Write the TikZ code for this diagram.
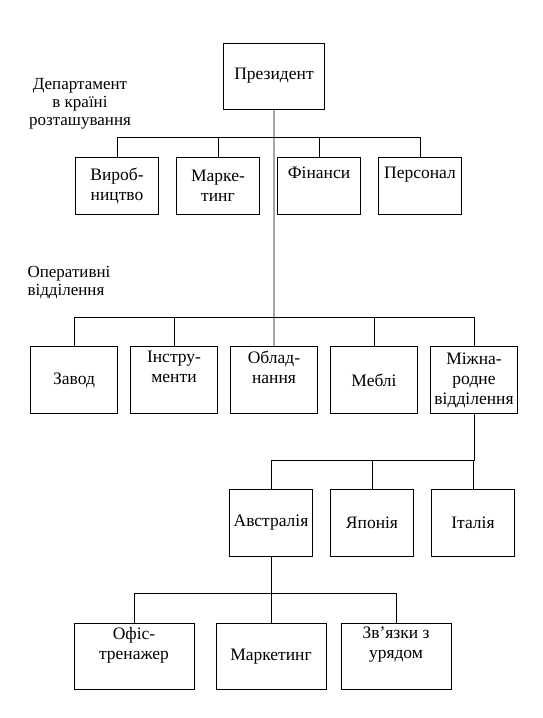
\documentclass[tikz,border=0pt]{standalone}
\usepackage{fontspec}
\setmainfont{Liberation Serif}
\usetikzlibrary{positioning}

\begin{document}
\begin{tikzpicture}[x=1bp,y=-1bp,align=center,font=\fontsize{17.5bp}{20bp}\selectfont]
\tikzstyle{unit}=[rectangle,draw=black,line width=0.8bp,inner sep=2bp]
\tikzstyle{dept}=[unit,minimum width=83bp,minimum height=57bp,node distance=101bp]
\tikzstyle{division}=[unit,minimum width=87bp,minimum height=67bp,node distance=100bp]
\tikzstyle{branch}=[unit,minimum width=83bp,minimum height=67bp,node distance=101bp]
\tikzstyle{office}=[unit,minimum width=110bp,minimum height=66bp]
\tikzstyle{link}=[line width=0.8bp]
\tikzstyle{caption}=[font=\fontsize{17bp}{18bp}\selectfont]

\useasboundingbox (0,0) rectangle (543,718);

\node[unit,minimum width=101bp,minimum height=66bp] (pres) at (274,76) {Президент};

% departments in the home country
\node[dept] (vyr) at (117,186) {Вироб-\\ництво};
\node[dept] (mark) [right of = vyr] {Марке-\\тинг};
\node[dept] (fin) [right of = mark] {Фінанси\\\strut};
\node[dept] (pers) [right of = fin] {Персонал\\\strut};
\node[caption] (capdept) at (80,104) {Департамент\\в країні\\розташування};

% operating divisions
\node[division] (zav) at (74,380) {Завод};
\node[division] (instr) [right of = zav] {Інстру-\\менти\\\strut};
\node[division] (obl) [right of = instr] {Облад-\\нання\\\strut};
\node[division] (mebl) [right of = obl] {Меблі};
\node[division] (mizh) [right of = mebl] {Міжна-\\родне\\відділення};
\node[caption,anchor=west,align=left] (capdiv) at (24,283) {Оперативні\\відділення};

% international
\node[branch] (austr) at (271,523) {Австралія};
\node[branch] (yap) [right of = austr] {Японія};
\node[branch] (ital) [right of = yap] {Італія};

% Australia
\node[office] (mark2) at (271,656) {\strut\\Маркетинг\\\strut};
\node[office,minimum width=120bp,node distance=137bp] (ofis) [left of = mark2] {Офіс-\\тренажер\\\strut};
\node[office,node distance=125bp] (zvyaz) [right of = mark2] {Зв’язки з\\урядом\\\strut};

\draw[link] (pres) -- (obl);
\draw[link] (vyr.north) -- ++(0,-20) -| (pers.north);
\draw[link] (mark.north) -- ++(0,-20);
\draw[link] (fin.north) -- ++(0,-20);
\draw[link] (zav.north) -- ++(0,-29) -| (mizh.north);
\draw[link] (instr.north) -- ++(0,-29);
\draw[link] (mebl.north) -- ++(0,-29);
\draw[link] (mizh.south) -- ++(0,47);
\draw[link] (austr.north) -- ++(0,-29) -| (ital.north);
\draw[link] (yap.north) -- ++(0,-29);
\draw[link] (austr) -- (mark2);
\draw[link] (ofis.north) -- ++(0,-29) -| (zvyaz.north);
\end{tikzpicture}
\end{document}
